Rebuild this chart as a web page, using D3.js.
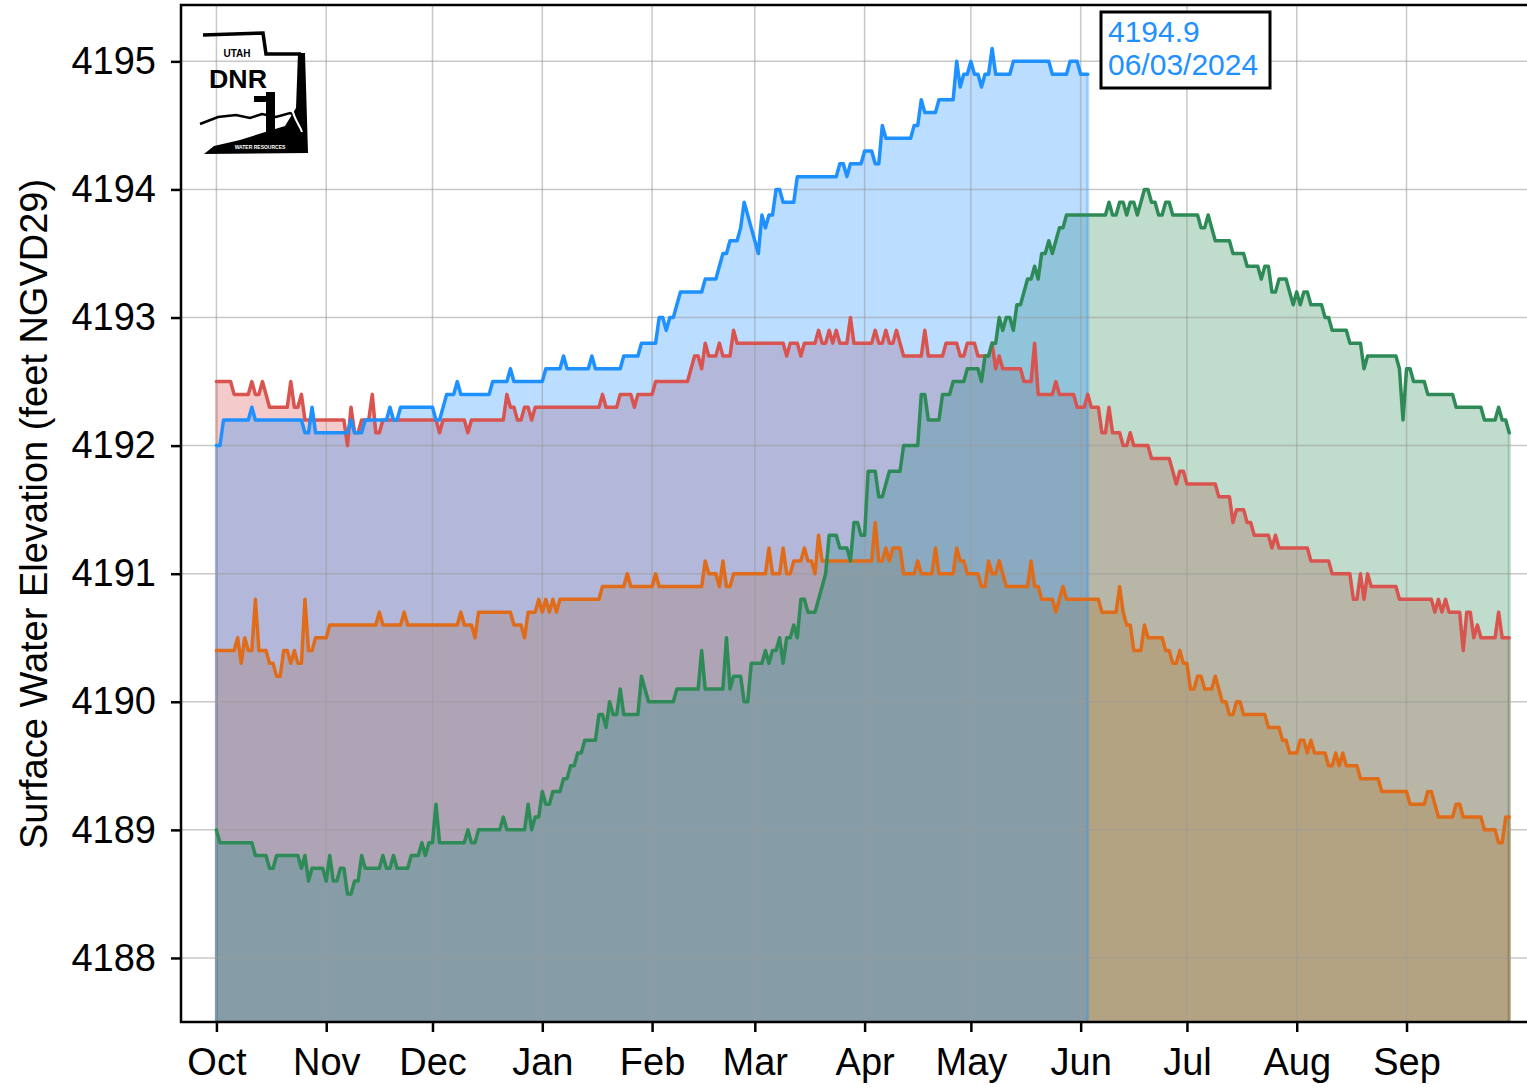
<!DOCTYPE html>
<html>
<head>
<meta charset="utf-8">
<script src="https://cdn.jsdelivr.net/npm/d3@7"></script>
<style>
  html, body { margin: 0; padding: 0; background: #fff; }
  svg { display: block; font-family: "Liberation Sans", Arial, sans-serif; }
</style>
</head>
<body>
<svg id="chart" width="1527" height="1088"></svg>
<script>
// Water year runs Oct 1 2023 – Sep 30 2024; day index 0 = Oct 1.
// Each series: [day, elevation] change points, value holds until the next point.
const waterYearStart = new Date(2023, 9, 1);
const lastDay = 365;

const seriesNames = ["red", "orange", "green", "blue"];

const redRuns = [
  [0,4192.5],[5,4192.4],[10,4192.5],[11,4192.4],[13,4192.5],[14,4192.4],[15,4192.3],[21,4192.5],[22,4192.3],
  [24,4192.4],[25,4192.2],[37,4192.0],[38,4192.3],[39,4192.1],[41,4192.2],[44,4192.4],[45,4192.1],[47,4192.2],
  [63,4192.1],[64,4192.2],[71,4192.1],[72,4192.2],[82,4192.4],[83,4192.3],[85,4192.2],[87,4192.3],[89,4192.2],
  [90,4192.3],[109,4192.4],[110,4192.3],[114,4192.4],[118,4192.3],[119,4192.4],[124,4192.5],[134,4192.6],
  [135,4192.7],[137,4192.6],[138,4192.8],[139,4192.7],[142,4192.8],[143,4192.7],[146,4192.9],[147,4192.8],
  [161,4192.7],[162,4192.8],[165,4192.7],[166,4192.8],[170,4192.9],[171,4192.8],[173,4192.9],[174,4192.8],
  [175,4192.9],[176,4192.8],[179,4193.0],[180,4192.8],[186,4192.9],[187,4192.8],[189,4192.9],[190,4192.8],
  [192,4192.9],[193,4192.8],[194,4192.7],[200,4192.9],[201,4192.7],[206,4192.8],[210,4192.7],[212,4192.8],
  [215,4192.7],[219,4192.8],[220,4192.6],[221,4192.7],[222,4192.6],[228,4192.5],[231,4192.8],[232,4192.4],
  [237,4192.5],[238,4192.4],[243,4192.3],[246,4192.4],[247,4192.3],[250,4192.1],[252,4192.3],[253,4192.1],
  [256,4192.0],[258,4192.1],[259,4192.0],[264,4191.9],[270,4191.8],[271,4191.7],[272,4191.8],[274,4191.7],
  [283,4191.6],[287,4191.4],[288,4191.5],[291,4191.4],[293,4191.3],[298,4191.2],[299,4191.3],[300,4191.2],
  [309,4191.1],[315,4191.0],[321,4190.8],[323,4191.0],[324,4190.8],[325,4191.0],[326,4190.9],[334,4190.8],
  [344,4190.7],[345,4190.8],[346,4190.7],[347,4190.8],[348,4190.7],[352,4190.4],[353,4190.7],[355,4190.5],
  [356,4190.6],[357,4190.5],[362,4190.7],[363,4190.5]
];

const orangeRuns = [
  [0,4190.4],[6,4190.5],[7,4190.3],[8,4190.5],[9,4190.4],[11,4190.8],[12,4190.4],[15,4190.3],[17,4190.2],
  [19,4190.4],[21,4190.3],[22,4190.4],[23,4190.3],[25,4190.8],[26,4190.4],[28,4190.5],[32,4190.6],[46,4190.7],
  [47,4190.6],[53,4190.7],[54,4190.6],[69,4190.7],[70,4190.6],[73,4190.5],[74,4190.7],[84,4190.6],[87,4190.5],
  [88,4190.7],[91,4190.8],[92,4190.7],[93,4190.8],[94,4190.7],[95,4190.8],[96,4190.7],[97,4190.8],[109,4190.9],
  [116,4191.0],[117,4190.9],[124,4191.0],[125,4190.9],[138,4191.1],[139,4191.0],[142,4190.9],[143,4191.1],
  [144,4190.9],[146,4191.0],[156,4191.2],[157,4191.0],[160,4191.2],[161,4191.0],[163,4191.1],[166,4191.2],
  [167,4191.1],[169,4191.0],[170,4191.3],[171,4191.1],[186,4191.4],[187,4191.1],[189,4191.2],[190,4191.1],
  [191,4191.2],[194,4191.0],[198,4191.1],[199,4191.0],[203,4191.2],[204,4191.0],[209,4191.2],[210,4191.1],
  [212,4191.0],[216,4190.9],[218,4191.1],[219,4191.0],[221,4191.1],[222,4191.0],[223,4190.9],[230,4191.1],
  [231,4190.9],[233,4190.8],[237,4190.7],[238,4190.8],[239,4190.9],[240,4190.8],[250,4190.7],[255,4190.9],
  [256,4190.7],[257,4190.6],[259,4190.4],[262,4190.6],[263,4190.5],[268,4190.4],[270,4190.3],[272,4190.4],
  [273,4190.3],[275,4190.1],[277,4190.2],[279,4190.1],[282,4190.2],[283,4190.1],[284,4190.0],[286,4189.9],
  [288,4190.0],[290,4189.9],[297,4189.8],[301,4189.7],[303,4189.6],[306,4189.7],[308,4189.6],[309,4189.7],
  [310,4189.6],[314,4189.5],[316,4189.6],[317,4189.5],[318,4189.6],[319,4189.5],[323,4189.4],[329,4189.3],
  [337,4189.2],[342,4189.3],[344,4189.2],[345,4189.1],[350,4189.2],[352,4189.1],[358,4189.0],[362,4188.9],
  [364,4189.1]
];

const greenRuns = [
  [0,4189.0],[1,4188.9],[11,4188.8],[15,4188.7],[17,4188.8],[24,4188.7],[25,4188.8],[26,4188.6],[27,4188.7],
  [31,4188.6],[32,4188.8],[33,4188.6],[35,4188.7],[37,4188.5],[39,4188.6],[41,4188.8],[42,4188.7],[47,4188.8],
  [48,4188.7],[50,4188.8],[51,4188.7],[55,4188.8],[58,4188.9],[59,4188.8],[60,4188.9],[62,4189.2],[63,4188.9],
  [71,4189.0],[72,4188.9],[74,4189.0],[81,4189.1],[82,4189.0],[88,4189.2],[89,4189.0],[90,4189.1],[92,4189.3],
  [93,4189.2],[95,4189.3],[98,4189.4],[100,4189.5],[102,4189.6],[104,4189.7],[108,4189.9],[110,4189.8],
  [111,4190.0],[112,4189.9],[114,4190.1],[115,4189.9],[120,4190.2],[121,4190.1],[122,4190.0],[130,4190.1],
  [137,4190.4],[138,4190.1],[144,4190.5],[145,4190.1],[146,4190.2],[149,4190.0],[151,4190.3],[155,4190.4],
  [156,4190.3],[157,4190.4],[159,4190.5],[160,4190.3],[161,4190.5],[163,4190.6],[164,4190.5],[165,4190.8],
  [167,4190.7],[170,4190.8],[171,4190.9],[172,4191.0],[173,4191.3],[176,4191.2],[179,4191.1],[180,4191.4],
  [182,4191.3],[184,4191.8],[187,4191.6],[189,4191.7],[190,4191.8],[194,4192.0],[199,4192.4],[201,4192.2],
  [205,4192.4],[208,4192.5],[212,4192.6],[216,4192.5],[217,4192.7],[219,4192.8],[221,4193.0],[222,4192.9],
  [223,4193.0],[225,4192.9],[226,4193.1],[228,4193.2],[229,4193.3],[231,4193.4],[232,4193.3],[233,4193.5],
  [235,4193.6],[236,4193.5],[237,4193.6],[238,4193.7],[240,4193.8],[252,4193.9],[253,4193.8],[255,4193.9],
  [257,4193.8],[258,4193.9],[260,4193.8],[261,4193.9],[262,4194.0],[264,4193.9],[266,4193.8],[268,4193.9],
  [270,4193.8],[278,4193.7],[280,4193.8],[281,4193.7],[282,4193.6],[287,4193.5],[291,4193.4],[295,4193.3],
  [296,4193.4],[298,4193.2],[300,4193.3],[303,4193.2],[304,4193.1],[305,4193.2],[306,4193.1],[307,4193.2],
  [309,4193.1],[313,4193.0],[315,4192.9],[320,4192.8],[324,4192.6],[325,4192.7],[334,4192.6],[335,4192.2],
  [336,4192.6],[338,4192.5],[342,4192.4],[350,4192.3],[358,4192.2],[362,4192.3],[363,4192.2],[365,4192.1]
];

const blueRuns = [
  [0,4192.0],[2,4192.2],[10,4192.3],[11,4192.2],[25,4192.1],[27,4192.3],[28,4192.1],[38,4192.2],[39,4192.1],
  [42,4192.2],[49,4192.3],[50,4192.2],[52,4192.3],[62,4192.2],[64,4192.3],[65,4192.4],[68,4192.5],[69,4192.4],
  [78,4192.5],[83,4192.6],[84,4192.5],[93,4192.6],[98,4192.7],[99,4192.6],[106,4192.7],[107,4192.6],
  [115,4192.7],[120,4192.8],[125,4193.0],[127,4192.9],[128,4193.0],[130,4193.1],[131,4193.2],[138,4193.3],
  [142,4193.4],[143,4193.5],[145,4193.6],[148,4193.7],[149,4193.9],[150,4193.8],[151,4193.7],[152,4193.6],
  [153,4193.5],[154,4193.8],[155,4193.7],[156,4193.8],[158,4194.0],[160,4193.9],[164,4194.1],[176,4194.2],
  [178,4194.1],[179,4194.2],[183,4194.3],[186,4194.2],[188,4194.5],[189,4194.4],[197,4194.5],[199,4194.7],
  [200,4194.6],[204,4194.7],[209,4195.0],[210,4194.8],[211,4194.9],[213,4195.0],[214,4194.9],[216,4194.8],
  [217,4194.9],[219,4195.1],[220,4194.9],[225,4195.0],[236,4194.9],[241,4195.0],[244,4194.9]
];
const blueLastDay = 246; // 06/03/2024

const seriesColors = { red: "#d9534f", orange: "#e06c1a", green: "#2e8b57", blue: "#1e90ff" };

const yTicks = [4188, 4189, 4190, 4191, 4192, 4193, 4194, 4195];
const monthLabels = ["Oct","Nov","Dec","Jan","Feb","Mar","Apr","May","Jun","Jul","Aug","Sep"];

const latestLabel = ["4194.9", "06/03/2024"];
const yLabel = "Surface Water Elevation (feet NGVD29)";

// expand change points into one value per day
function expand(runs, endDay) {
  const out = [];
  let k = 0;
  for (let d = runs[0][0]; d <= endDay; d++) {
    while (k + 1 < runs.length && runs[k + 1][0] <= d) k++;
    out.push({ date: d3.timeDay.offset(waterYearStart, d), value: runs[k][1] });
  }
  return out;
}

const series = {
  red: expand(redRuns, lastDay),
  orange: expand(orangeRuns, lastDay),
  green: expand(greenRuns, lastDay),
  blue: expand(blueRuns, blueLastDay)
};

const svg = d3.select("#chart");
const plot = { left: 181, top: 5, bottom: 1022, right: 1545 };
const pxPerDay = 3.542;
const fontSize = "38px";

const x = d3.scaleTime()
  .domain([d3.timeDay.offset(waterYearStart, -10), d3.timeDay.offset(waterYearStart, 375)])
  .range([plot.left, plot.left + 385 * pxPerDay]);
const y = d3.scaleLinear().domain([4187.5, 4195.44]).range([plot.bottom, plot.top]);

const monthTicks = d3.timeMonth.range(waterYearStart, new Date(2024, 9, 1));

// filled areas, oldest first
const area = d3.area()
  .x(d => x(d.date))
  .y0(y(4187.5))
  .y1(d => y(d.value));

const fills = svg.append("g");
seriesNames.forEach(name => {
  fills.append("path")
    .datum(series[name])
    .attr("d", area)
    .attr("fill", seriesColors[name])
    .attr("fill-opacity", 0.3);
  // edge strokes at start and end of each filled region
  const s = series[name];
  [s[0], s[s.length - 1]].forEach(p => {
    fills.append("line")
      .attr("x1", x(p.date)).attr("x2", x(p.date))
      .attr("y1", y(p.value)).attr("y2", y(4187.5))
      .attr("stroke", seriesColors[name]).attr("stroke-opacity", 0.3).attr("stroke-width", 3);
  });
});

// grid
const grid = svg.append("g").attr("class", "grid");
grid.selectAll("line.gy").data(yTicks).join("line").attr("class", "gy")
  .attr("x1", plot.left).attr("x2", plot.right)
  .attr("y1", d => y(d)).attr("y2", d => y(d));
grid.selectAll("line.gx").data(monthTicks).join("line").attr("class", "gx")
  .attr("x1", d => x(d)).attr("x2", d => x(d))
  .attr("y1", plot.top).attr("y2", plot.bottom);
grid.selectAll("line").attr("stroke", "#9a9a9a").attr("stroke-opacity", 0.55).attr("stroke-width", 1.5);

const line = d3.line().x(d => x(d.date)).y(d => y(d.value));
const lines = svg.append("g");
seriesNames.forEach(name => {
  lines.append("path")
    .datum(series[name])
    .attr("d", line)
    .attr("fill", "none")
    .attr("stroke", seriesColors[name])
    .attr("stroke-width", 3.5)
    .attr("stroke-linejoin", "round")
    .attr("stroke-linecap", "round");
});

// axes
const yAxis = d3.axisLeft(y).tickValues(yTicks).tickFormat(d3.format("d")).tickSize(10).tickPadding(15);
const gy = svg.append("g").attr("transform", `translate(${plot.left},0)`).call(yAxis);
const xAxis = d3.axisBottom(x).tickValues(monthTicks).tickFormat((d, i) => monthLabels[i]).tickSize(10).tickPadding(16);
const gx = svg.append("g").attr("transform", `translate(0,${plot.bottom})`).call(xAxis);
[gx, gy].forEach(g => {
  g.select(".domain").remove();
  g.selectAll(".tick line").attr("stroke", "#000").attr("stroke-width", 2.5);
  g.selectAll(".tick text").attr("fill", "#000").style("font-size", fontSize)
    .style("font-family", "'Liberation Sans', Arial, sans-serif");
});

// frame
svg.append("path")
  .attr("d", `M${plot.right},${plot.top}H${plot.left}V${plot.bottom}H${plot.right}`)
  .attr("fill", "none").attr("stroke", "#000").attr("stroke-width", 2.5);

// axis title
svg.append("text")
  .attr("transform", `translate(47,${(178 + 850) / 2}) rotate(-90)`)
  .attr("text-anchor", "middle")
  .style("font-size", fontSize)
  .text(yLabel);

// latest reading annotation
const ann = svg.append("g");
ann.append("rect").attr("x", 1101).attr("y", 12).attr("width", 169).attr("height", 76)
  .attr("fill", "#fff").attr("stroke", "#000").attr("stroke-width", 3);
ann.selectAll("text").data(latestLabel).join("text")
  .attr("x", 1108).attr("y", (d, i) => 42 + i * 33)
  .attr("fill", seriesColors.blue).style("font-size", "30px")
  .text(d => d);

// agency logo
const logo = svg.append("g");
logo.append("path")
  .attr("d", "M203,35 L263,33 L266,54 L301,54")
  .attr("fill", "none").attr("stroke", "#000").attr("stroke-width", 3.5);
logo.append("path")
  .attr("d", "M298,53 L305,53 L308,153 L204,154 L214,146 L240,140 L262,133 L285,126 L296,108 Z")
  .attr("fill", "#000");
logo.append("path")
  .attr("d", "M200,124 L218,117 L236,115 L250,118 L262,114 L276,117 L290,113 L302,118")
  .attr("fill", "none").attr("stroke", "#000").attr("stroke-width", 2.5);
logo.append("rect").attr("x", 266).attr("y", 92).attr("width", 9).attr("height", 48).attr("fill", "#000");
logo.append("rect").attr("x", 254).attr("y", 96).attr("width", 14).attr("height", 6).attr("fill", "#000");
logo.append("path")
  .attr("d", "M276,80 C290,78 290,95 292,108 C294,120 300,125 302,132")
  .attr("fill", "none").attr("stroke", "#fff").attr("stroke-width", 2);
logo.append("text").attr("x", 237).attr("y", 57).attr("text-anchor", "middle")
  .style("font-size", "10px").style("font-weight", "bold").text("UTAH");
logo.append("text").attr("x", 238).attr("y", 88).attr("text-anchor", "middle")
  .style("font-size", "25px").style("font-weight", "bold")
  .attr("textLength", 58).attr("lengthAdjust", "spacingAndGlyphs").text("DNR");
logo.append("text").attr("x", 260).attr("y", 149).attr("text-anchor", "middle")
  .attr("fill", "#fff").style("font-size", "5px").style("font-weight", "bold").text("WATER RESOURCES");
</script>
</body>
</html>
